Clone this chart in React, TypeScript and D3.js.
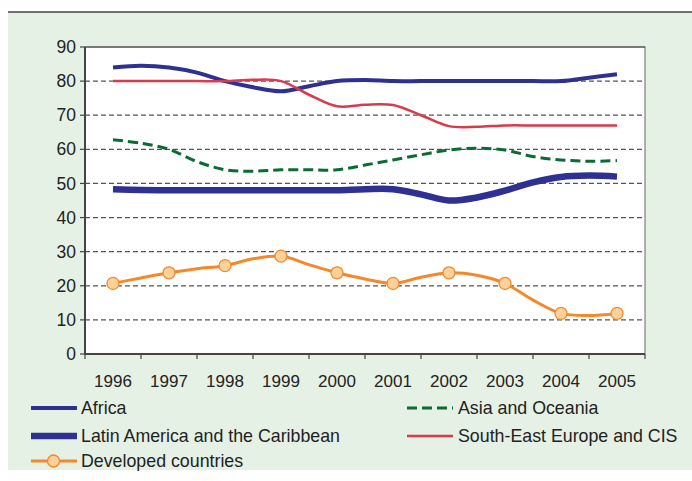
import React from "react";
import * as d3 from "d3";

const years = [1996, 1997, 1998, 1999, 2000, 2001, 2002, 2003, 2004, 2005];
const halfSteps = [1996, 1996.5, 1997, 1997.5, 1998, 1998.5, 1999, 1999.5, 2000, 2000.5, 2001, 2001.5, 2002, 2002.5, 2003, 2003.5, 2004, 2004.5, 2005];
const yTicks = [0, 10, 20, 30, 40, 50, 60, 70, 80, 90];

const africa = [84, 84.5, 84, 82.5, 80, 78.2, 77, 78.5, 80, 80.3, 80, 80, 80, 80, 80, 80, 80, 81, 82];
const latinAmerica = [48.3, 48.1, 48, 48, 48, 48, 48, 48, 48, 48.3, 48.3, 46.8, 45, 45.9, 47.9, 50.3, 51.9, 52.3, 52];
const asiaOceania = [62.8, 61.8, 60, 56.4, 54, 53.6, 54, 54, 54, 55.4, 56.9, 58.4, 59.8, 60.3, 59.8, 57.9, 56.9, 56.5, 56.7];
const seEurope = [80, 80, 80, 80, 80, 80.4, 80, 76, 72.6, 73.1, 73, 70, 66.8, 66.6, 67, 67, 67, 67, 67];
const developed = [20.7, 22.3, 23.8, 25, 25.9, 27.9, 28.7, 26.2, 23.8, 22, 20.7, 22.5, 23.8, 23.1, 20.7, 15.8, 11.9, 11.3, 11.9];

const legendLeft = ["Africa", "Latin America and the Caribbean", "Developed countries"];
const legendRight = ["Asia and Oceania", "South-East Europe and CIS"];

const FONT = "'Liberation Sans', Arial, Helvetica, sans-serif";

export default function App() {
  const plotL = 85, plotR = 645, plotT = 47, plotB = 354;
  const xBand = d3.scaleBand<number>().domain(years).range([plotL, plotR]);
  const xLin = d3.scaleLinear().domain([1996, 2005]).range([plotL + xBand.bandwidth() / 2, plotR - xBand.bandwidth() / 2]);
  const y = d3.scaleLinear().domain([0, 90]).range([plotB, plotT]);

  const line = d3
    .line<number>()
    .x((_, i) => xLin(halfSteps[i]))
    .y((v) => y(v))
    .curve(d3.curveCatmullRom.alpha(0.5));

  const navy = "#2e3192";
  const red = "#d93a4c";
  const green = "#0b6b35";
  const orange = "#f5882a";
  const markerFill = "#fdd199";

  const boundaries = years.map((yr) => xBand(yr)!).concat([plotR]);

  return (
    <svg width={692} height={481} style={{ position: "absolute", left: 0, top: 0 }} fontFamily={FONT}>
      <rect x={8} y={12} width={684} height={458} fill="#e6f1e5" />
      <line x1={8} x2={692} y1={12} y2={12} stroke="#444" strokeWidth={1.5} />
      <rect x={plotL} y={plotT} width={plotR - plotL} height={plotB - plotT} fill="#fff" stroke="#666" strokeWidth={1} />
      {yTicks.filter((t) => t > 0 && t < 90).map((t) => (
        <line key={"g" + t} x1={plotL} x2={plotR} y1={y(t)} y2={y(t)} stroke="#555" strokeWidth={1.2} strokeDasharray="5,3" />
      ))}
      {/* axes */}
      <line x1={plotL} x2={plotL} y1={plotT} y2={plotB} stroke="#444" strokeWidth={2} />
      <line x1={plotL} x2={plotR} y1={plotB} y2={plotB} stroke="#444" strokeWidth={2} />
      <line x1={plotL} x2={plotR} y1={plotT} y2={plotT} stroke="#444" strokeWidth={1.2} />
      {yTicks.map((t) => (
        <g key={"yt" + t}>
          <line x1={plotL - 5} x2={plotL} y1={y(t)} y2={y(t)} stroke="#444" strokeWidth={1.2} />
          <text x={76} y={y(t)} dy="0.35em" textAnchor="end" fontSize={17.5} fill="#222">{t}</text>
        </g>
      ))}
      {boundaries.map((bx, i) => (
        <line key={"xt" + i} x1={bx} x2={bx} y1={plotB} y2={plotB + 5} stroke="#444" strokeWidth={1.2} />
      ))}
      {years.map((yr) => (
        <text key={"xl" + yr} x={xBand(yr)! + xBand.bandwidth() / 2} y={387} textAnchor="middle" fontSize={17} fill="#222">{yr}</text>
      ))}

      {/* series */}
      <path d={line(africa)!} fill="none" stroke={navy} strokeWidth={4} />
      <path d={line(latinAmerica)!} fill="none" stroke={navy} strokeWidth={6.5} />
      <path d={line(seEurope)!} fill="none" stroke={red} strokeWidth={2.5} />
      <path d={line(asiaOceania)!} fill="none" stroke={green} strokeWidth={3} strokeDasharray="10,5" />
      <path d={line(developed)!} fill="none" stroke={orange} strokeWidth={3} />
      {developed.map((v, i) =>
        Number.isInteger(halfSteps[i]) ? (
          <circle key={"m" + i} cx={xLin(halfSteps[i])} cy={y(v)} r={6} fill={markerFill} stroke={orange} strokeWidth={1.3} />
        ) : null
      )}

      {/* legend */}
      <g fontSize={17.8} fill="#222">
        <line x1={31} x2={77} y1={408} y2={408} stroke={navy} strokeWidth={4} />
        <text x={81} y={408} dy="0.35em">{legendLeft[0]}</text>
        <line x1={31} x2={77} y1={436} y2={436} stroke={navy} strokeWidth={6.5} />
        <text x={81} y={436} dy="0.35em">{legendLeft[1]}</text>
        <line x1={31} x2={77} y1={461} y2={461} stroke={orange} strokeWidth={3} />
        <circle cx={53.5} cy={461} r={6} fill={markerFill} stroke={orange} strokeWidth={1.3} />
        <text x={81} y={461} dy="0.35em">{legendLeft[2]}</text>
        <line x1={407} x2={453} y1={408} y2={408} stroke={green} strokeWidth={3} strokeDasharray="10,5" />
        <text x={458} y={408} dy="0.35em">{legendRight[0]}</text>
        <line x1={407} x2={453} y1={436} y2={436} stroke={red} strokeWidth={2.5} />
        <text x={458} y={436} dy="0.35em">{legendRight[1]}</text>
      </g>
    </svg>
  );
}
